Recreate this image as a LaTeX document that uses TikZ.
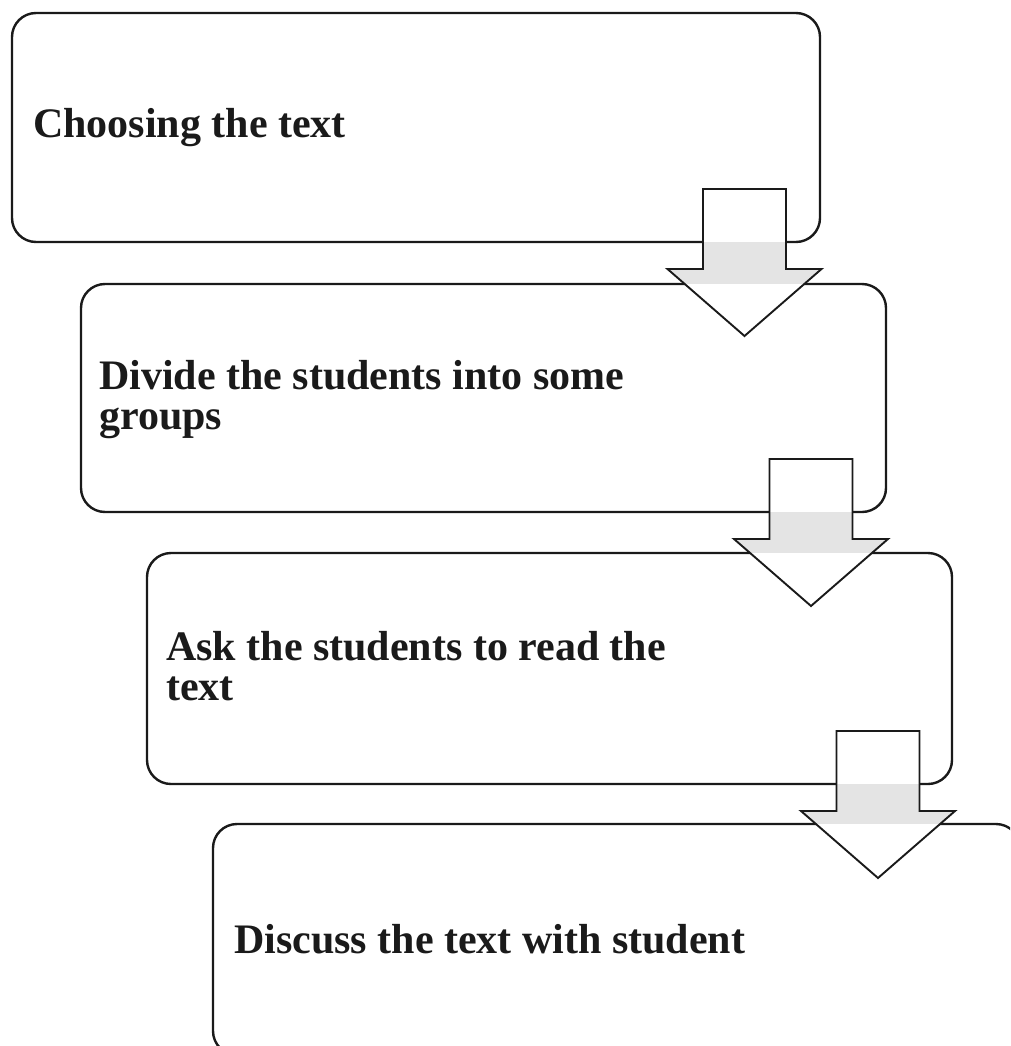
\documentclass[tikz,border=0pt]{standalone}
\usepackage{fontspec}
\setmainfont{Liberation Serif}
\usetikzlibrary{calc}
\definecolor{ink}{HTML}{1A1A1A}
\definecolor{gapgray}{HTML}{E4E4E4}
\newcommand\blockarrowpath[2]{({#1-41.5},{#2-53}) -- ({#1+41.5},{#2-53}) -- ({#1+41.5},{#2+27}) -- ({#1+77},{#2+27}) -- ({#1},{#2+94}) -- ({#1-77},{#2+27}) -- ({#1-41.5},{#2+27}) -- cycle}
\newcommand\blockarrow[3]{%
  \fill[white] \blockarrowpath{#1}{#2};
  \begin{scope}
    \clip \blockarrowpath{#1}{#2};
    \fill[gapgray] (0,#2) rectangle (1010,#3);
  \end{scope}
  \draw[arrowline] \blockarrowpath{#1}{#2};}
\begin{document}
\begin{tikzpicture}[x=1pt,y=-1pt,
  box/.style={draw=ink,line width=2.4pt,rounded corners=24pt,fill=white,inner sep=0pt},
  lbl/.style={anchor=base west,inner sep=0pt,text=ink,align=left,
    font=\bfseries\fontsize{42}{40}\selectfont},
  arrowline/.style={draw=ink,line width=1.9pt,line join=miter}]
\useasboundingbox (0,0) rectangle (1010,1046);
\clip (0,0) rectangle (1010,1046);
\fill[white] (0,0) rectangle (1010,1046);
% boxes
\node[box,minimum width=808pt,minimum height=229pt] (b1) at (416,127.5) {};
\node[box,minimum width=805pt,minimum height=228pt] (b2) at (483.5,398) {};
\node[box,minimum width=805pt,minimum height=231pt] (b3) at (549.5,668.5) {};
\node[box,minimum width=807pt,minimum height=231pt] (b4) at (616.5,939.5) {};
% labels (base anchor = baseline of the last line)
\node[lbl] (t1) at (33,138) {Choosing the text};
\node[lbl] (t2) at (99,429) {Divide the students into some\\groups};
\node[lbl] (t3) at (166,700) {Ask the students to read the\\text};
\node[lbl] (t4) at (234,953) {Discuss the text with student};
% block arrows
\blockarrow{744.5}{242}{284}
\blockarrow{811}{512}{553}
\blockarrow{878}{784}{824}
\end{tikzpicture}
\end{document}
